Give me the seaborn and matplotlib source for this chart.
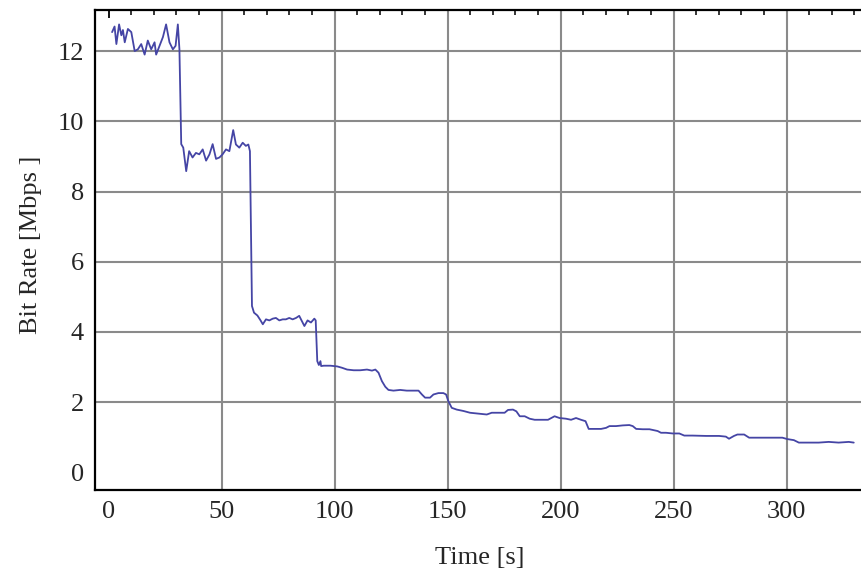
import matplotlib
matplotlib.use('Agg')
import matplotlib.pyplot as plt
from matplotlib.ticker import MultipleLocator
import seaborn as sns

# time [s] and bit rate [Mbps]
time_s = [
    1.5, 2.6, 3.4, 4.6, 5.6, 6.3, 7.1, 8.5, 10.0, 11.5, 12.9, 14.4, 15.9, 17.3,
    18.8, 20.3, 21.0, 22.5, 24.0, 25.4, 26.9, 28.4, 29.6, 30.6, 31.3,
    32.1, 33.0, 34.3, 35.6, 37.1, 38.6, 40.1, 41.6, 43.1, 44.6, 46.0, 47.5,
    49.0, 50.4, 51.9, 53.4, 55.1, 56.3, 57.8, 59.3, 60.7, 61.8, 62.5,
    63.4, 64.3, 65.8, 67.2, 68.2, 69.6, 71.1, 72.6, 74.0, 75.5, 77.0, 78.4,
    79.9, 81.4, 82.9, 84.3, 85.8, 86.6, 88.0, 89.5, 91.0, 91.6,
    92.3, 93.0, 93.7, 94.0, 95.2, 98.1, 101.1, 103.3, 105.5, 108.4, 111.3,
    114.3, 116.5, 118.0, 119.4, 120.9, 122.4, 123.8, 126.0, 129.0, 131.9,
    134.9, 137.1, 138.6, 140.0, 142.2, 143.7, 145.9, 148.1, 149.3, 150.3,
    151.8, 154.0, 157.0, 159.9, 162.9, 167.3, 169.5, 175.2, 176.7, 178.9,
    180.4, 181.9, 184.1, 186.3, 188.5, 191.4, 194.4, 195.8, 197.3, 199.5,
    202.4, 204.6, 206.8, 209.0, 211.0, 212.4, 214.9, 217.9, 220.1, 221.6,
    224.5, 227.5, 230.4, 231.9, 233.4, 236.3, 239.3, 240.7, 242.9, 244.4,
    246.6, 249.6, 252.5, 254.7, 258.4, 264.3, 270.1, 273.1, 274.5, 276.7,
    278.2, 281.2, 283.4, 287.8, 292.2, 296.6, 298.1, 300.3, 303.2, 305.4,
    309.8, 314.2, 318.6, 323.0, 327.5, 329.7,
]
bitrate = [
    12.54, 12.70, 12.20, 12.76, 12.45, 12.60, 12.25, 12.63, 12.54, 12.00, 12.05, 12.20, 11.90, 12.30,
    12.05, 12.25, 11.90, 12.15, 12.40, 12.76, 12.25, 12.05, 12.15, 12.76, 12.05,
    9.35, 9.25, 8.58, 9.15, 8.97, 9.10, 9.06, 9.20, 8.88, 9.06, 9.35, 8.93,
    8.97, 9.06, 9.20, 9.15, 9.75, 9.34, 9.25, 9.39, 9.30, 9.34, 9.15,
    4.74, 4.55, 4.47, 4.33, 4.22, 4.36, 4.33, 4.38, 4.40, 4.33, 4.36, 4.36,
    4.40, 4.36, 4.40, 4.46, 4.27, 4.17, 4.33, 4.27, 4.38, 4.33,
    3.17, 3.06, 3.17, 3.03, 3.04, 3.04, 3.02, 2.98, 2.93, 2.91, 2.91,
    2.93, 2.90, 2.93, 2.84, 2.60, 2.44, 2.35, 2.33, 2.35, 2.33,
    2.33, 2.33, 2.22, 2.13, 2.13, 2.22, 2.26, 2.26, 2.22, 2.03,
    1.84, 1.79, 1.75, 1.70, 1.68, 1.65, 1.70, 1.70, 1.78, 1.79,
    1.74, 1.60, 1.60, 1.53, 1.50, 1.50, 1.50, 1.55, 1.60, 1.55,
    1.53, 1.50, 1.55, 1.50, 1.46, 1.24, 1.24, 1.24, 1.27, 1.32,
    1.32, 1.34, 1.35, 1.32, 1.24, 1.23, 1.23, 1.21, 1.18, 1.13,
    1.13, 1.11, 1.11, 1.05, 1.05, 1.04, 1.04, 1.02, 0.96, 1.04,
    1.08, 1.08, 0.99, 0.99, 0.99, 0.99, 0.99, 0.95, 0.92, 0.85,
    0.85, 0.85, 0.87, 0.85, 0.87, 0.85,
]

x_grid = [50, 100, 150, 200, 250, 300]
y_grid = [2, 4, 6, 8, 10, 12]

sns.set_style('white')
plt.rcParams['font.family'] = ['Liberation Serif', 'DejaVu Serif']

fig = plt.figure(figsize=(8.62, 5.84), dpi=100)
ax = fig.add_axes([95 / 862, 94 / 584, 773 / 862, 480 / 584])

for gx in x_grid:
    ax.axvline(gx, color='#8a8a8a', lw=1.5, zorder=1)
for gy in y_grid:
    ax.axhline(gy, color='#8a8a8a', lw=1.5, zorder=1)

sns.lineplot(x=time_s, y=bitrate, ax=ax, color='#4545a5', lw=1.3, zorder=3)

ax.set_xlim(-6.06, 336)
ax.set_ylim(-0.5, 13.17)
ax.xaxis.set_major_locator(MultipleLocator(50))
ax.xaxis.set_minor_locator(MultipleLocator(10))
ax.yaxis.set_major_locator(MultipleLocator(2))
ax.yaxis.set_minor_locator(MultipleLocator(0.5))
ax.tick_params(which='both', direction='in', top=True, right=False,
               color='black', labelsize=19)
ax.tick_params(which='major', length=6, width=1.3, pad=8)
ax.tick_params(which='minor', length=3.5, width=1.1)

for s in ax.spines.values():
    s.set_color('black')
    s.set_linewidth(1.6)

ax.set_xlabel('Time [s]', fontsize=19)
ax.set_ylabel('Bit Rate [Mbps ]', fontsize=19)
ax.xaxis.set_label_coords(0.498, -0.118)
ax.yaxis.set_label_coords(-0.069, 0.51)

plt.savefig('out.png', dpi=100)
plt.close()
